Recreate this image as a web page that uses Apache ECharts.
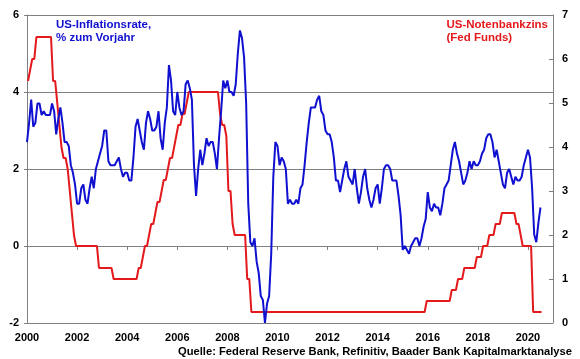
<!DOCTYPE html>
<html><head><meta charset="utf-8">
<script src="https://cdn.jsdelivr.net/npm/echarts@6/dist/echarts.min.js"></script>
<style>html,body{margin:0;padding:0;background:#fff}#c{width:580px;height:359px}</style>
</head><body><div id="c"></div>
<script>
// Monthly data, January 2000 to July 2020
const startYear = 2000;

// US CPI inflation, % year over year (left axis)
const cpiInflation = [
  2.7, 3.2, 3.8, 3.1, 3.2, 3.7, 3.7, 3.4, 3.5, 3.4, 3.4, 3.4,   // 2000
  3.7, 3.5, 2.9, 3.3, 3.6, 3.2, 2.7, 2.7, 2.6, 2.1, 1.9, 1.6,   // 2001
  1.1, 1.1, 1.5, 1.6, 1.2, 1.1, 1.5, 1.8, 1.5, 2.0, 2.2, 2.4,   // 2002
  2.6, 3.0, 3.0, 2.2, 2.1, 2.1, 2.1, 2.2, 2.3, 2.0, 1.8, 1.9,   // 2003
  1.9, 1.7, 1.7, 2.3, 3.1, 3.3, 3.0, 2.7, 2.5, 3.2, 3.5, 3.3,   // 2004
  3.0, 3.0, 3.1, 3.5, 2.8, 2.5, 3.2, 3.6, 4.7, 4.3, 3.5, 3.4,   // 2005
  4.0, 3.6, 3.4, 3.5, 4.2, 4.3, 4.1, 3.8, 2.1, 1.3, 2.0, 2.5,   // 2006
  2.1, 2.4, 2.8, 2.6, 2.7, 2.7, 2.4, 2.0, 2.8, 3.5, 4.3, 4.1,   // 2007
  4.3, 4.0, 4.0, 3.9, 4.2, 5.0, 5.6, 5.4, 4.9, 3.7, 1.1, 0.1,   // 2008
  0.0, 0.2, -0.4, -0.7, -1.3, -1.4, -2.0, -1.5, -1.3, -0.2, 1.8, 2.7, // 2009
  2.6, 2.1, 2.3, 2.2, 2.0, 1.1, 1.2, 1.1, 1.1, 1.2, 1.1, 1.5,   // 2010
  1.6, 2.1, 2.7, 3.2, 3.6, 3.6, 3.6, 3.8, 3.9, 3.5, 3.4, 3.0,   // 2011
  2.9, 2.9, 2.7, 2.3, 1.7, 1.7, 1.4, 1.7, 2.0, 2.2, 1.8, 1.7,   // 2012
  1.6, 2.0, 1.5, 1.1, 1.4, 1.8, 2.0, 1.5, 1.2, 1.0, 1.2, 1.5,   // 2013
  1.6, 1.1, 1.5, 2.0, 2.1, 2.1, 2.0, 1.7, 1.7, 1.7, 1.3, 0.8,   // 2014
  -0.1, 0.0, -0.1, -0.2, 0.0, 0.1, 0.2, 0.2, 0.0, 0.2, 0.5, 0.7, // 2015
  1.4, 1.0, 0.9, 1.1, 1.0, 1.0, 0.8, 1.1, 1.5, 1.6, 1.7, 2.1,   // 2016
  2.5, 2.7, 2.4, 2.2, 1.9, 1.6, 1.7, 1.9, 2.2, 2.0, 2.2, 2.1,   // 2017
  2.1, 2.2, 2.4, 2.5, 2.8, 2.9, 2.9, 2.7, 2.3, 2.5, 2.2, 1.9,   // 2018
  1.6, 1.5, 1.9, 2.0, 1.8, 1.6, 1.8, 1.7, 1.7, 1.8, 2.1, 2.3,   // 2019
  2.5, 2.3, 1.5, 0.3, 0.1, 0.6, 1.0                              // 2020
];

// US Fed Funds target rate (upper bound), % (right axis)
const fedFunds = [
  5.5, 5.75, 6.0, 6.0, 6.5, 6.5, 6.5, 6.5, 6.5, 6.5, 6.5, 6.5,          // 2000
  5.5, 5.5, 5.0, 4.5, 4.0, 3.75, 3.75, 3.5, 3.0, 2.5, 2.0, 1.75,        // 2001
  1.75, 1.75, 1.75, 1.75, 1.75, 1.75, 1.75, 1.75, 1.75, 1.75, 1.25, 1.25, // 2002
  1.25, 1.25, 1.25, 1.25, 1.25, 1.0, 1.0, 1.0, 1.0, 1.0, 1.0, 1.0,      // 2003
  1.0, 1.0, 1.0, 1.0, 1.0, 1.25, 1.25, 1.5, 1.75, 1.75, 2.0, 2.25,      // 2004
  2.25, 2.5, 2.75, 2.75, 3.0, 3.25, 3.25, 3.5, 3.75, 3.75, 4.0, 4.25,   // 2005
  4.5, 4.5, 4.75, 4.75, 5.0, 5.25, 5.25, 5.25, 5.25, 5.25, 5.25, 5.25,  // 2006
  5.25, 5.25, 5.25, 5.25, 5.25, 5.25, 5.25, 5.25, 4.75, 4.5, 4.5, 4.25, // 2007
  3.0, 3.0, 2.25, 2.0, 2.0, 2.0, 2.0, 2.0, 2.0, 1.0, 1.0, 0.25,         // 2008
  0.25, 0.25, 0.25, 0.25, 0.25, 0.25, 0.25, 0.25, 0.25, 0.25, 0.25, 0.25, // 2009
  0.25, 0.25, 0.25, 0.25, 0.25, 0.25, 0.25, 0.25, 0.25, 0.25, 0.25, 0.25, // 2010
  0.25, 0.25, 0.25, 0.25, 0.25, 0.25, 0.25, 0.25, 0.25, 0.25, 0.25, 0.25, // 2011
  0.25, 0.25, 0.25, 0.25, 0.25, 0.25, 0.25, 0.25, 0.25, 0.25, 0.25, 0.25, // 2012
  0.25, 0.25, 0.25, 0.25, 0.25, 0.25, 0.25, 0.25, 0.25, 0.25, 0.25, 0.25, // 2013
  0.25, 0.25, 0.25, 0.25, 0.25, 0.25, 0.25, 0.25, 0.25, 0.25, 0.25, 0.25, // 2014
  0.25, 0.25, 0.25, 0.25, 0.25, 0.25, 0.25, 0.25, 0.25, 0.25, 0.25, 0.5,  // 2015
  0.5, 0.5, 0.5, 0.5, 0.5, 0.5, 0.5, 0.5, 0.5, 0.5, 0.5, 0.75,          // 2016
  0.75, 0.75, 1.0, 1.0, 1.0, 1.25, 1.25, 1.25, 1.25, 1.25, 1.25, 1.5,   // 2017
  1.5, 1.5, 1.75, 1.75, 1.75, 2.0, 2.0, 2.0, 2.25, 2.25, 2.25, 2.5,     // 2018
  2.5, 2.5, 2.5, 2.5, 2.5, 2.5, 2.25, 2.25, 2.0, 1.75, 1.75, 1.75,      // 2019
  1.75, 1.75, 0.25, 0.25, 0.25, 0.25, 0.25                              // 2020
];

const xTicks = [2000, 2002, 2004, 2006, 2008, 2010, 2012, 2014, 2016, 2018, 2020];
const leftTicks = [-2, 0, 2, 4, 6];
const rightTicks = [0, 1, 2, 3, 4, 5, 6, 7];

const inflationLabel = 'US-Inflationsrate,\n% zum Vorjahr';
const fedLabel = 'US-Notenbankzins\n(Fed Funds)';
const sourceText = 'Quelle: Federal Reserve Bank, Refinitiv, Baader Bank Kapitalmarktanalyse';

const BLUE = '#1010d0';
const RED = '#e3191c';
const GRAYLINE = '#808080';
const FONT = '"Liberation Sans", Arial, sans-serif';

const cpiData = cpiInflation.map((v, i) => [startYear + i / 12, v]);
const fedData = fedFunds.map((v, i) => [startYear + (i + 0.5) / 12, v]);

const chart = echarts.init(document.getElementById('c'), null, { renderer: 'canvas' });
const labelStyle = { color: '#000', fontWeight: 'bold', fontSize: 11, fontFamily: FONT };

chart.setOption({
  animation: false,
  backgroundColor: '#fff',
  grid: { left: 27, right: 27, top: 15, bottom: 36, containLabel: false },
  xAxis: {
    type: 'value',
    min: xTicks[0],
    max: 2021,
    interval: 2,
    axisLine: { show: true, lineStyle: { color: GRAYLINE, width: 1 } },
    axisTick: { show: true, length: 4, lineStyle: { color: GRAYLINE } },
    axisLabel: Object.assign({}, labelStyle, {
      margin: 9, showMaxLabel: false,
      formatter: v => xTicks.includes(v) ? String(v) : ''
    }),
    splitLine: { show: false }
  },
  yAxis: [
    {
      type: 'value',
      position: 'left',
      min: leftTicks[0],
      max: leftTicks[leftTicks.length - 1],
      interval: 2,
      axisLine: { show: true, lineStyle: { color: GRAYLINE, width: 1 } },
      axisTick: { show: true, length: 3, lineStyle: { color: GRAYLINE } },
      axisLabel: Object.assign({}, labelStyle, { margin: 8 }),
      splitLine: { show: true, lineStyle: { color: GRAYLINE, width: 1 } }
    },
    {
      type: 'value',
      position: 'right',
      min: rightTicks[0],
      max: rightTicks[rightTicks.length - 1],
      interval: 1,
      axisLine: { show: true, lineStyle: { color: GRAYLINE, width: 1 } },
      axisTick: { show: true, inside: true, length: 4, lineStyle: { color: GRAYLINE } },
      axisLabel: Object.assign({}, labelStyle, { margin: 9 }),
      splitLine: { show: false }
    }
  ],
  series: [
    {
      name: 'Fed Funds',
      type: 'line',
      yAxisIndex: 1,
      data: fedData,
      showSymbol: false,
      lineStyle: { color: RED, width: 2 },
      z: 2
    },
    {
      name: 'Inflation',
      type: 'line',
      yAxisIndex: 0,
      data: cpiData,
      showSymbol: false,
      lineStyle: { color: BLUE, width: 2 },
      z: 3
    }
  ],
  graphic: [
    {
      type: 'text', left: 56, top: 19,
      style: { text: inflationLabel, fill: BLUE, font: 'bold 11.5px ' + FONT, lineHeight: 12.5 }
    },
    {
      type: 'text', right: 32, top: 19,
      style: { text: fedLabel, fill: RED, font: 'bold 11.5px ' + FONT, lineHeight: 12.5, align: 'right' }
    },
    {
      type: 'text', right: 8, top: 346,
      style: { text: sourceText, fill: '#000', font: 'bold 11.2px ' + FONT }
    }
  ]
});
</script>
</body></html>
